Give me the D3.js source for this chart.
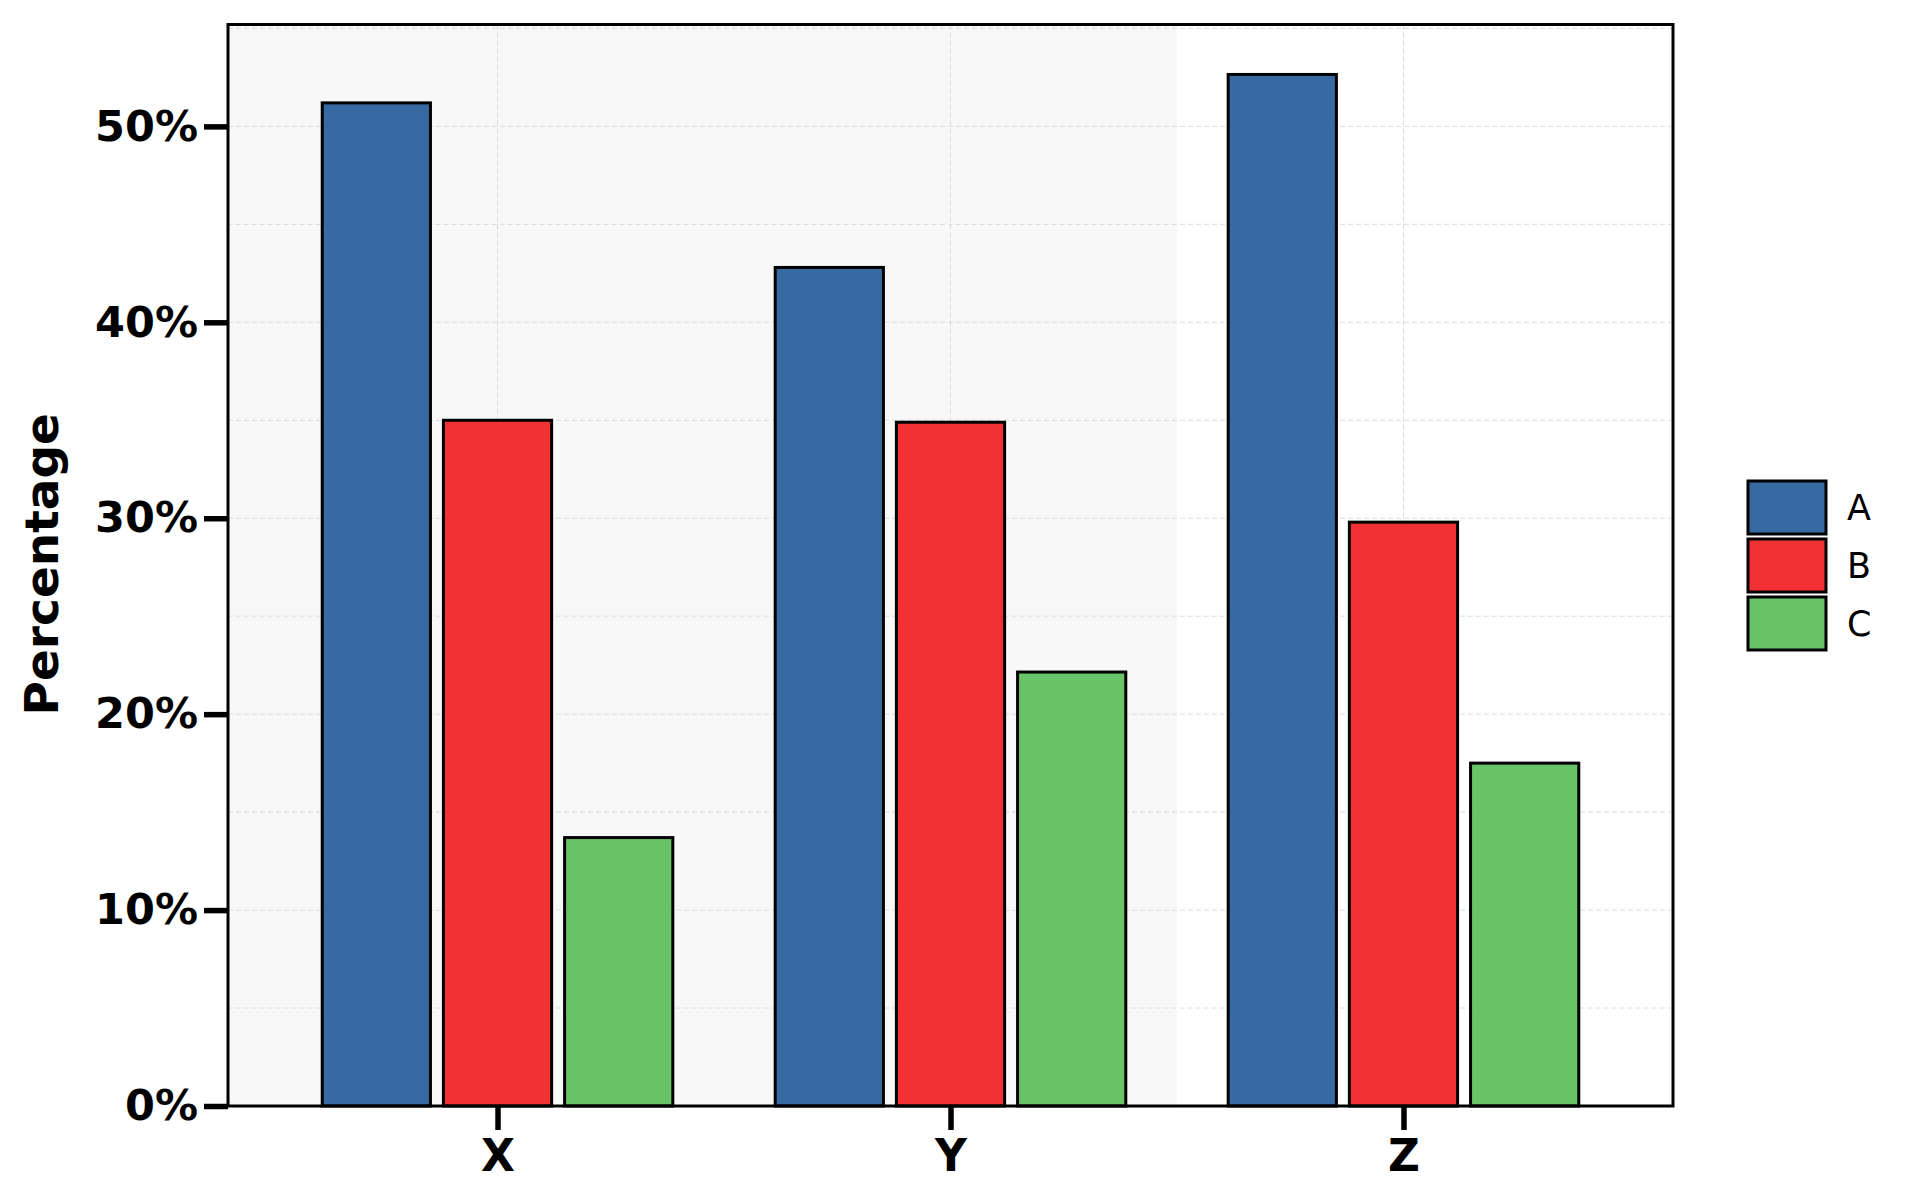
<!DOCTYPE html>
<html>
<head>
<meta charset="utf-8">
<script src="https://cdn.jsdelivr.net/npm/d3@7"></script>
<style>
  html, body { margin: 0; padding: 0; background: #ffffff; }
  svg { display: block; }
</style>
</head>
<body>
<svg id="chart" width="1920" height="1200"></svg>
<script>
// ---- data ----
const categories = ["X", "Y", "Z"];
const seriesNames = ["A", "B", "C"];
const valuesA = [0.512, 0.428, 0.5265];
const valuesB = [0.350, 0.349, 0.298];
const valuesC = [0.137, 0.2215, 0.175];
const seriesColors = ["#205a97", "#ef1b1e", "#59be58"];
const yTicks = [0, 0.1, 0.2, 0.3, 0.4, 0.5];
const yGrid = [0.05, 0.1, 0.15, 0.2, 0.25, 0.3, 0.35, 0.4, 0.45, 0.5, 0.55];
const yLabel = "Percentage";

const seriesValues = [valuesA, valuesB, valuesC];
const rows = categories.map((c, i) => ({
  cat: c,
  vals: seriesNames.map((s, j) => ({ s, v: seriesValues[j][i], color: seriesColors[j] }))
}));

// ---- layout ----
const L = 228, R = 1673, T = 24.5, B = 1106;
const svg = d3.select("#chart");
const font = "'DejaVu Sans', sans-serif";

const x = d3.scalePoint().domain(categories).range([L, R]).padding(0.595);
const step = x.step();
const inner = d3.scaleBand().domain(seriesNames)
  .range([-0.387 * step, 0.387 * step]).paddingInner(0.107).paddingOuter(0);
const y = d3.scaleLinear().domain([0, 0.552]).range([B, T]);

// background shading band (left part up to midpoint between Y and Z)
svg.append("rect")
  .attr("x", L).attr("y", T)
  .attr("width", (x("Y") + x("Z")) / 2 - L)
  .attr("height", B - T)
  .attr("fill", "#f8f8f8");

// grid
const grid = svg.append("g");
grid.selectAll("line.h").data(yGrid).join("line")
  .attr("x1", L).attr("x2", R)
  .attr("y1", d => y(d)).attr("y2", d => y(d))
  .attr("stroke", "#dcdcdc").attr("stroke-width", 1)
  .attr("stroke-dasharray", "5,3");
grid.selectAll("line.v").data(categories).join("line")
  .attr("x1", d => x(d)).attr("x2", d => x(d))
  .attr("y1", T).attr("y2", B)
  .attr("stroke", "#dcdcdc").attr("stroke-width", 1)
  .attr("stroke-dasharray", "5,3");

// bars
const groups = svg.append("g").selectAll("g").data(rows).join("g")
  .attr("transform", d => `translate(${x(d.cat)},0)`);
groups.selectAll("rect").data(d => d.vals).join("rect")
  .attr("x", d => inner(d.s))
  .attr("width", inner.bandwidth())
  .attr("y", d => y(d.v))
  .attr("height", d => y(0) - y(d.v))
  .attr("fill", d => d.color)
  .attr("fill-opacity", 0.9)
  .attr("stroke", "#000")
  .attr("stroke-width", 3);

// frame
svg.append("rect")
  .attr("x", L).attr("y", T).attr("width", R - L).attr("height", B - T)
  .attr("fill", "none").attr("stroke", "#000").attr("stroke-width", 3);

// y axis
const yAxis = svg.append("g")
  .attr("transform", `translate(${L},0)`)
  .call(d3.axisLeft(y).tickValues(yTicks).tickFormat(d3.format(".0%"))
    .tickSize(24).tickPadding(6));
yAxis.select(".domain").remove();
yAxis.selectAll(".tick line").attr("stroke", "#000").attr("stroke-width", 5.5);
yAxis.selectAll(".tick text")
  .attr("font-family", font).attr("font-weight", "bold")
  .attr("font-size", 43).attr("fill", "#000");

// x axis
const xAxis = svg.append("g")
  .attr("transform", `translate(0,${B})`)
  .call(d3.axisBottom(x).tickSize(24).tickPadding(10));
xAxis.select(".domain").remove();
xAxis.selectAll(".tick line").attr("stroke", "#000").attr("stroke-width", 5.5);
xAxis.selectAll(".tick text")
  .attr("font-family", font).attr("font-weight", "bold")
  .attr("font-size", 44).attr("fill", "#000");

// y label
svg.append("text")
  .attr("transform", `translate(58,${(T + B) / 2 - 1}) rotate(-90)`)
  .attr("text-anchor", "middle")
  .attr("font-family", font).attr("font-weight", "bold")
  .attr("font-size", 47).attr("fill", "#000")
  .text(yLabel);

// legend
const leg = svg.append("g").attr("transform", "translate(1748,481)");
const legItems = leg.selectAll("g").data(seriesNames).join("g")
  .attr("transform", (d, i) => `translate(0,${i * 58})`);
legItems.append("rect")
  .attr("x", 0).attr("y", 0).attr("width", 78).attr("height", 53)
  .attr("fill", (d, i) => seriesColors[i]).attr("fill-opacity", 0.9)
  .attr("stroke", "#000").attr("stroke-width", 3);
legItems.append("text")
  .attr("x", 99).attr("y", 26.5).attr("dy", "0.35em")
  .attr("font-family", font).attr("font-size", 35).attr("fill", "#000")
  .text(d => d);
</script>
</body>
</html>
